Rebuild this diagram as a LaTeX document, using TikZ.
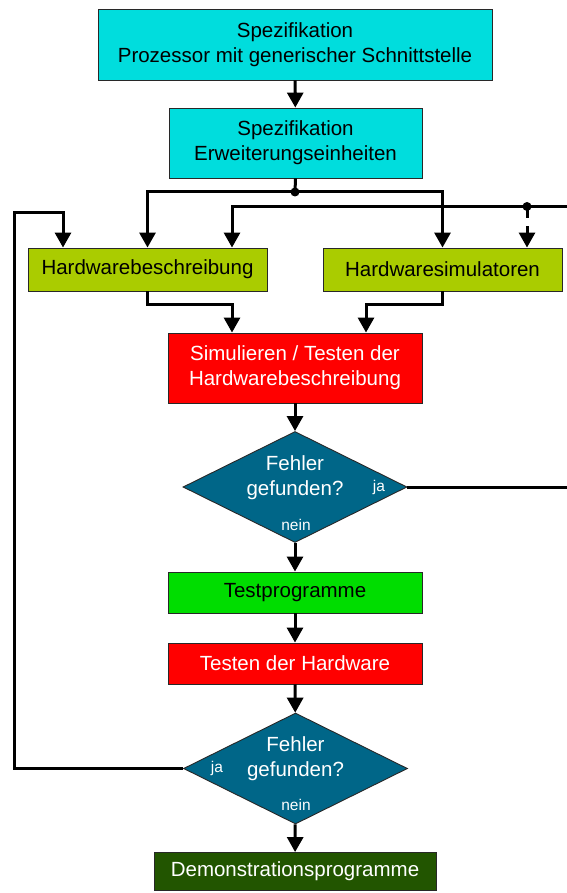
\documentclass[tikz,border=0pt]{standalone}
\usepackage{fontspec}
\setmainfont{Liberation Sans}
\usetikzlibrary{arrows.meta,shapes.geometric}

\definecolor{specfill}{RGB}{0,221,221}
\definecolor{hwfill}{RGB}{170,204,0}
\definecolor{simfill}{RGB}{255,0,0}
\definecolor{decfill}{RGB}{0,102,136}
\definecolor{testfill}{RGB}{0,221,0}
\definecolor{demofill}{RGB}{34,85,0}
\definecolor{edge}{RGB}{40,40,40}

\begin{document}
\begin{tikzpicture}[x=1pt,y=-1pt,
  font=\fontsize{20.5}{25}\selectfont,
  box/.style={draw=edge,line width=0.9pt,inner sep=0pt,align=center},
  decision/.style={diamond,draw=edge,line width=0.9pt,fill=decfill,inner sep=0pt,
    minimum width=224pt,minimum height=111pt},
  small/.style={font=\fontsize{15.5}{18}\selectfont,text=white,inner sep=0pt},
  conn/.style={line width=3pt,-{Triangle[length=15pt,width=16pt]}},
  wire/.style={line width=3pt},
  dot/.style={circle,fill=black,inner sep=0pt,minimum size=9pt}
]
\useasboundingbox (0,0) rectangle (566,893);

% process boxes
\node[box,fill=specfill,minimum width=394pt,minimum height=71pt] (spec) at (295,44.5)
  {Spezifikation\\Prozessor mit generischer Schnittstelle};
\node[box,fill=specfill,minimum width=253pt,minimum height=70pt] (ext) at (295.5,143)
  {Spezifikation\\Erweiterungseinheiten};
\node[box,fill=hwfill,minimum width=239pt,minimum height=43pt] (hwb) at (147.5,269.5)
  {Hardwarebeschreibung};
\node[box,fill=hwfill,minimum width=239pt,minimum height=43pt] (hws) at (442.5,269.5)
  {Hardwaresimulatoren};
\node[box,fill=simfill,text=white,minimum width=254pt,minimum height=70pt] (sim) at (295,368)
  {Simulieren / Testen der\\Hardwarebeschreibung};
\node[decision] (d1) at (295,487) {};
\node[text=white,align=center,inner sep=0pt] (d1t) at (295,477.5) {Fehler\\gefunden?};
\node[small] (d1ja) at (379,487) {ja};
\node[small] (d1nein) at (296,525) {nein};
\node[box,fill=testfill,minimum width=254pt,minimum height=41pt] (tp) at (295,592.5)
  {Testprogramme};
\node[box,fill=simfill,text=white,minimum width=254pt,minimum height=41pt] (thw) at (295,663.5)
  {Testen der Hardware};
\node[decision] (d2) at (295.5,768.5) {};
\node[text=white,align=center,inner sep=0pt] (d2t) at (295.5,758.5) {Fehler\\gefunden?};
\node[small] (d2ja) at (217,768) {ja};
\node[small] (d2nein) at (296,805) {nein};
\node[box,fill=demofill,text=white,minimum width=282pt,minimum height=38pt] (demo) at (295,871.5)
  {Demonstrationsprogramme};

% branch points and free ends
\coordinate (j1) at (295,192);
\coordinate (j2) at (527,206.5);
\coordinate (r2) at (567,206.5);
\coordinate (r1) at (567,487);
\coordinate (loopx) at (14,213);

% main flow
\draw[conn] (spec) -- (ext);
\draw[wire] (ext.south) -- (j1);
\draw[conn] (j1) -| (hwb.north);
\draw[conn] (j1) -| (hws.north);
\draw[conn] (r2) -| ([xshift=84.5pt]hwb.north);
\draw[line width=3pt,dash pattern=on 12pt off 8pt] (j2) -- ++(0,28);
\draw[conn] ([yshift=-28pt]j2) -- (j2 |- hws.north);
\node[dot] (j1dot) at (j1) {};
\node[dot] (j2dot) at (j2) {};

\draw[conn] (hwb.south) -- ++(0,13.5) -| ([xshift=-63pt]sim.north);
\draw[conn] (hws.south) -- ++(0,13.5) -| ([xshift=71pt]sim.north);
\draw[conn] (sim) -- (d1);
\draw[wire] (d1.east) -- (r1);
\draw[conn] (d1) -- (tp);
\draw[conn] (tp) -- (thw);
\draw[conn] (thw) -- (d2);
\draw[conn] (d2) -- (demo);

% feedback loop from the second decision
\draw[conn] (d2.west) -| (loopx) -| ([xshift=-84.5pt]hwb.north);
\end{tikzpicture}
\end{document}
